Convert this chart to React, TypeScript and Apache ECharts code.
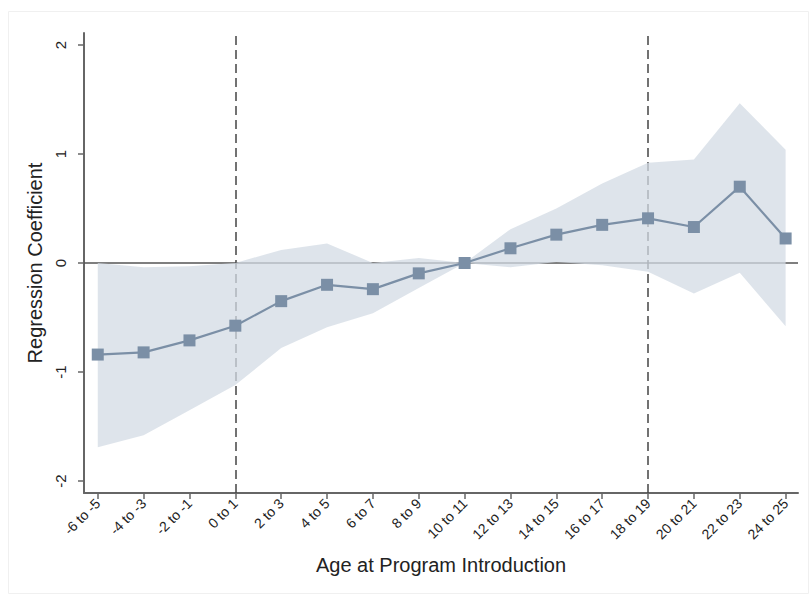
import React, { useEffect, useRef } from "react";
import * as echarts from "echarts";

const categories = [
  "-6 to -5", "-4 to -3", "-2 to -1", "0 to 1", "2 to 3", "4 to 5", "6 to 7", "8 to 9",
  "10 to 11", "12 to 13", "14 to 15", "16 to 17", "18 to 19", "20 to 21", "22 to 23", "24 to 25",
];
const coefficients = [-0.84, -0.82, -0.71, -0.575, -0.35, -0.2, -0.24, -0.095, 0, 0.135, 0.26, 0.35, 0.41, 0.33, 0.7, 0.225];
const upperCI = [0.0, -0.04, -0.03, 0.0, 0.12, 0.18, 0.0, 0.045, 0, 0.31, 0.5, 0.73, 0.92, 0.95, 1.465, 1.04];
const lowerCI = [-1.69, -1.58, -1.35, -1.12, -0.78, -0.59, -0.46, -0.23, 0, -0.04, 0.01, -0.02, -0.08, -0.28, -0.09, -0.58];
const yTicks = [-2, -1, 0, 1, 2];
const cutoffCategories = ["0 to 1", "18 to 19"];

const FONT = "Liberation Sans, Arial, sans-serif";

export default function App() {
  const ref = useRef<HTMLDivElement>(null);
  useEffect(() => {
    if (!ref.current) return;
    const chart = echarts.init(ref.current, null, { renderer: "svg" });
    const idx = categories.map((_, i) => i);
    chart.setOption({
      animation: false,
      backgroundColor: "#ffffff",
      textStyle: { fontFamily: FONT },
      grid: { left: 84, right: 11, top: 33, bottom: 101 },
      graphic: [
        {
          type: "rect",
          shape: { x: 8.5, y: 11.5, width: 800, height: 582 },
          style: { fill: "none", stroke: "#f0f0f0", lineWidth: 1 },
          silent: true,
        },
      ],
      xAxis: {
        type: "value",
        min: -0.3,
        max: 15.27,
        name: "Age at Program Introduction",
        nameLocation: "middle",
        nameGap: 62,
        nameTextStyle: { fontSize: 20, color: "#222", fontFamily: FONT },
        axisLine: { show: true, onZero: false, lineStyle: { color: "#666", width: 2 } },
        axisTick: { show: true, customValues: idx, length: 6, lineStyle: { color: "#666", width: 1.5 } },
        axisLabel: {
          customValues: idx,
          formatter: (v: number) => categories[Math.round(v)] ?? "",
          rotate: 45,
          margin: 8,
          fontSize: 14,
          color: "#222",
          fontFamily: FONT,
        },
        splitLine: { show: false },
      },
      yAxis: {
        type: "value",
        min: -2.11,
        max: 2.11,
        name: "Regression Coefficient",
        nameLocation: "middle",
        nameGap: 29,
        nameRotate: 90,
        nameTextStyle: { fontSize: 20, color: "#222", fontFamily: FONT },
        axisLine: { show: true, onZero: false, lineStyle: { color: "#666", width: 2 } },
        axisTick: { show: true, customValues: yTicks, length: 6, lineStyle: { color: "#666", width: 1.5 } },
        axisLabel: {
          customValues: yTicks,
          rotate: 90,
          margin: 16,
          fontSize: 15,
          color: "#222",
          fontFamily: FONT,
        },
        splitLine: { show: false },
      },
      series: [
        {
          type: "line",
          data: [],
          z: 1,
          silent: true,
          markLine: {
            z: 1,
            silent: true,
            symbol: "none",
            label: { show: false },
            data: [
              { yAxis: 0, lineStyle: { color: "#555", width: 1.5, type: "solid" } },
              ...cutoffCategories.map((c) => ({
                xAxis: categories.indexOf(c),
                lineStyle: { color: "#444", width: 1.5, type: [9, 5] },
              })),
            ],
          },
        },
        {
          type: "custom",
          z: 2,
          silent: true,
          data: idx.map((i) => [i, upperCI[i], lowerCI[i]]),
          renderItem: (params: any, api: any) => {
            if (params.dataIndex !== 0) return null;
            const top = idx.map((i) => api.coord([i, upperCI[i]]));
            const bot = idx.map((i) => api.coord([i, lowerCI[i]])).reverse();
            return {
              type: "polygon",
              shape: { points: top.concat(bot) },
              style: { fill: "#d3dbe4", opacity: 0.75 },
            };
          },
        },
        {
          type: "line",
          z: 3,
          data: idx.map((i) => [i, coefficients[i]]),
          symbol: "rect",
          symbolSize: 12,
          lineStyle: { color: "#7b8fa6", width: 2.2 },
          itemStyle: { color: "#7b8fa6" },
        },
      ],
    });
    return () => chart.dispose();
  }, []);
  return (
    <div
      ref={ref}
      style={{ position: "fixed", left: 0, top: 0, width: 809, height: 594 }}
    />
  );
}
